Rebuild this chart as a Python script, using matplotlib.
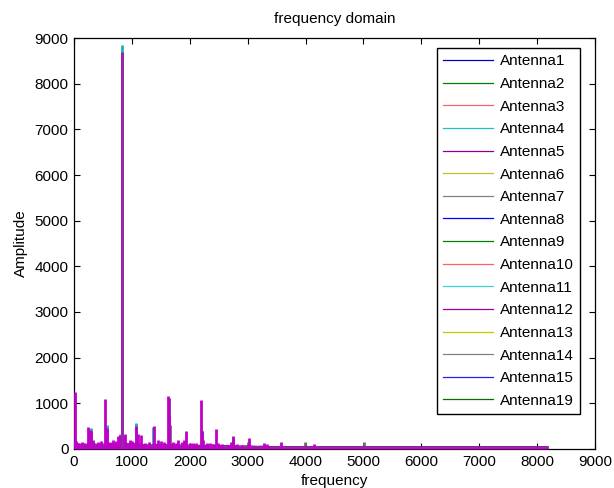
import matplotlib
matplotlib.use("Agg")
import matplotlib.pyplot as plt

plt.rcParams['font.family'] = ['Liberation Sans', 'DejaVu Sans']

# ---- data ----
antenna_labels = ['Antenna1', 'Antenna2', 'Antenna3', 'Antenna4', 'Antenna5', 'Antenna6',
                  'Antenna7', 'Antenna8', 'Antenna9', 'Antenna10', 'Antenna11', 'Antenna12',
                  'Antenna13', 'Antenna14', 'Antenna15', 'Antenna19']
antenna_colors = ['#0000c8', '#008000', '#ff6060', '#20c0c0', '#900090', '#c0c030',
                  '#808080', '#0000ff', '#008000', '#ff6060', '#40d0d0', '#a000a0',
                  '#c8c800', '#808080', '#2020ff', '#007000']

# broadband floor of the spectrum (shared by all antennas)
floor_freq = [0, 50, 100, 150, 200, 250, 300, 350, 400, 450, 500, 550, 600, 650, 700,
              750, 800, 850, 900, 950, 1000, 1050, 1100, 1150, 1200, 1250, 1300, 1350,
              1400, 1450, 1500, 1550, 1600, 1650, 1700, 1750, 1800, 1850, 1900, 1950,
              2000, 2050, 2100, 2150, 2200, 2250, 2300, 2350, 2400, 2450, 2500, 2550,
              2600, 2650, 2700, 2750, 2800, 2850, 2900, 2950, 3000, 3050, 3100, 3150,
              3200, 3250, 3300, 3350, 3400, 3500, 4000, 5000, 6000, 7000, 8000, 8192]
floor_amp = [130, 115, 100, 110, 95, 120, 130, 110, 100, 90, 105, 120, 115, 105, 110,
             130, 140, 135, 120, 115, 105, 120, 110, 100, 95, 90, 85, 90,
             100, 95, 90, 85, 95, 105, 90, 85, 80, 90, 85, 80,
             90, 85, 80, 75, 90, 80, 75, 80, 85, 80, 75, 75,
             70, 75, 70, 75, 70, 65, 65, 65, 70, 65, 60, 55,
             55, 60, 55, 55, 50, 50, 50, 50, 50, 50, 50, 50]

# main spectral peaks (top, magenta trace)
peak_freq = [10, 40, 75, 130, 180, 248, 270, 295, 320, 420, 470, 537, 566, 620, 670,
             720, 760, 790, 826, 850, 884, 960, 1010, 1069, 1104, 1150, 1230, 1300,
             1375, 1450, 1500, 1560, 1624, 1645, 1704, 1760, 1800, 1860, 1901, 1935,
             2005, 2060, 2103, 2190, 2230, 2300, 2357, 2403, 2461, 2490, 2560, 2664,
             2721, 2750, 2820, 2900, 3028, 3281, 3328, 3582, 4148]
peak_amp = [1250, 170, 140, 150, 130, 480, 420, 400, 200, 150, 170, 1100, 450, 160, 190,
            170, 280, 300, 8650, 290, 320, 200, 170, 510, 330, 300, 140, 160,
            510, 190, 170, 150, 1150, 700, 160, 140, 200, 150, 190, 400,
            140, 130, 120, 1080, 200, 130, 120, 110, 430, 140, 100, 95,
            160, 250, 110, 90, 230, 120, 105, 150, 105]

# peaks where other antennas stick out above the magenta trace
cyan_freq = [295, 566, 790, 826, 1074, 1370]
cyan_amp = [470, 520, 330, 8850, 575, 480]
gray_freq = [1645, 1664, 2218, 3010, 3998, 5014]
gray_amp = [740, 525, 390, 160, 153, 150]
purple_freq = [826, 1640, 2210, 2750]
purple_amp = [8700, 1120, 400, 280]

# ---- figure ----
fig = plt.figure(figsize=(6.14, 4.88), dpi=100)
ax = fig.add_axes([0.1205, 0.080, 0.8485, 0.842])

handles = []
for lab, col in zip(antenna_labels, antenna_colors):
    h, = ax.plot([], [], color=col, lw=0.9, label=lab)
    handles.append(h)

# lower antennas (mostly hidden below the top trace)
ax.fill_between(floor_freq, 0, floor_amp, color='#20a0a0', lw=0, zorder=1)
ax.vlines(cyan_freq, 0, cyan_amp, color='#20b0b0', lw=2.0, zorder=2)
ax.vlines(gray_freq, 0, gray_amp, color='#707070', lw=2.0, zorder=2)
ax.vlines(purple_freq, 0, purple_amp, color='#9020a0', lw=2.0, zorder=3)

# top trace
ax.fill_between(floor_freq, 0, floor_amp, color='#b010b8', lw=0, zorder=4)
ax.plot(floor_freq, floor_amp, color='#9020a0', lw=1.0, zorder=4)
ax.vlines(peak_freq, 0, peak_amp, color='#c000c8', lw=2.0, zorder=5)
ax.vlines([826], 0, [8650], color='#9828a8', lw=2.0, zorder=6)

ax.set_xlim(0, 9000)
ax.set_ylim(0, 9000)
ax.set_xticks(range(0, 9001, 1000))
ax.set_yticks(range(0, 9001, 1000))
ax.tick_params(direction='in', top=True, right=True, length=4, labelsize=11, width=0.8, pad=4)
for s in ax.spines.values():
    s.set_linewidth(0.9)

ax.set_title('frequency domain', fontsize=11, pad=11)
ax.set_xlabel('frequency', fontsize=11, labelpad=4)
ax.set_ylabel('Amplitude', fontsize=11, labelpad=5)

leg = ax.legend(handles=handles, loc='upper right', bbox_to_anchor=(0.971, 0.976),
                fontsize=11, handlelength=3.3, handletextpad=0.4, labelspacing=0.565,
                borderpad=0.42, borderaxespad=0.0, fancybox=False, framealpha=1,
                edgecolor='black')
leg.get_frame().set_linewidth(1.0)
leg.set_zorder(10)

fig.savefig('out.png', dpi=100)
